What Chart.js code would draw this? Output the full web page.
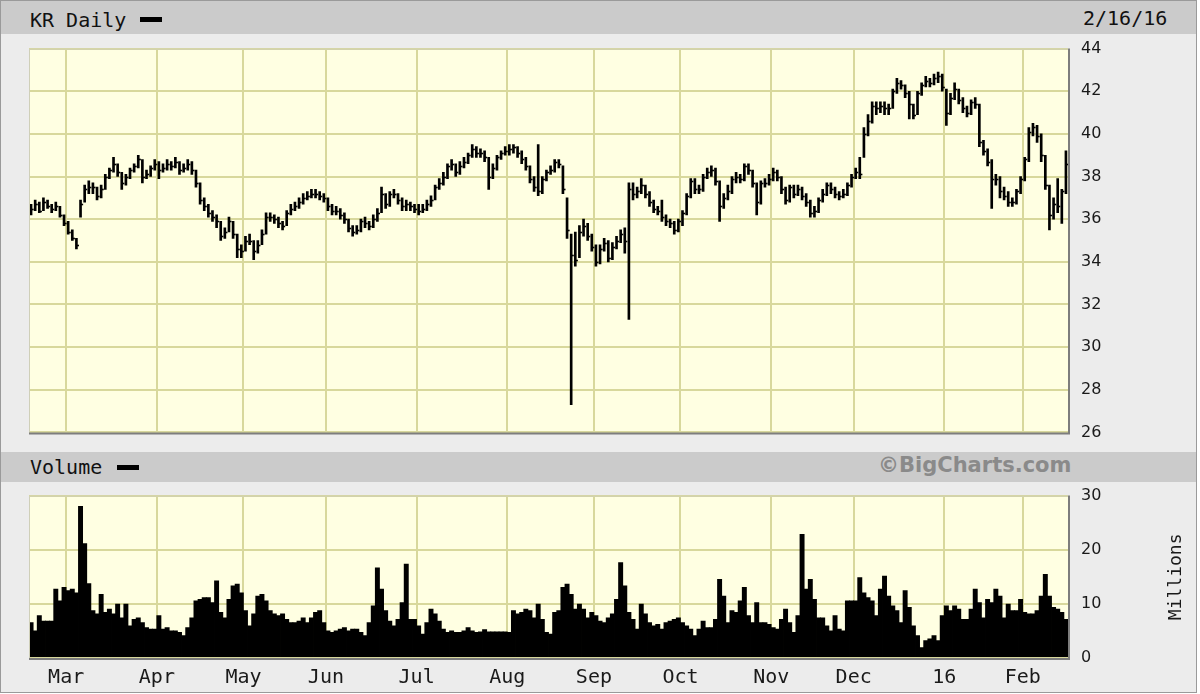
<!DOCTYPE html>
<html>
<head>
<meta charset="utf-8">
<script src="https://cdn.jsdelivr.net/npm/chart.js@4.4.0/dist/chart.umd.min.js"></script>
<style>
    html, body { margin: 0; padding: 0; background: #fff; }
    #frame { position: absolute; left: 0; top: 0; width: 1197px; height: 693px; box-sizing: border-box;
             background: #ececec; border: 1px solid #9a9a9a; }
    .band { position: absolute; left: 1px; width: 1195px; background: #cbcbcb; }
    .txt { position: absolute; font-family: "DejaVu Sans Mono", monospace; font-size: 20px; color: #111; line-height: 1; }
    .swatch { position: absolute; width: 22px; height: 5px; background: #000; }
    canvas { position: absolute; left: 0; }
</style>
</head>
<body>
<div id="frame"></div>
<div class="band" style="top:1px;height:33px;"></div>
<div class="txt" style="left:30px;top:10px;">KR Daily</div>
<div class="swatch" style="left:140px;top:17px;"></div>
<div class="txt" style="left:1083px;top:8px;">2/16/16</div>

<div class="band" style="top:452px;height:30px;"></div>
<div class="txt" style="left:30px;top:457px;">Volume</div>
<div class="swatch" style="left:117px;top:465px;"></div>
<div class="txt" style="left:878px;top:455px;font-family:'DejaVu Sans',sans-serif;font-weight:bold;font-size:21px;color:#8a8a8a;">©BigCharts.com</div>

<canvas id="price" width="1200" height="429" style="top:26px;"></canvas>
<canvas id="volume" width="1200" height="219" style="top:473px;"></canvas>

<script>
// --- DATA (KR daily, 2/17/15 - 2/16/16, one entry per trading day) ---
const closes = [
    36.5, 36.7, 36.4, 36.8, 36.6, 36.5, 36.6, 36.2, 35.8, 35.4,
    35.1, 34.8, 36.7, 37.4, 37.5, 37.5, 37.1, 37.4, 38.0, 38.3,
    38.6, 38.2, 37.7, 38.0, 38.3, 38.5, 38.8, 38.0, 38.1, 38.4,
    38.6, 38.3, 38.4, 38.6, 38.5, 38.7, 38.3, 38.4, 38.6, 38.3,
    37.7, 36.9, 36.6, 36.3, 36.1, 35.9, 35.2, 35.4, 35.9, 35.3,
    34.6, 34.5, 35.0, 35.0, 34.5, 34.8, 35.3, 36.1, 36.1, 36.0,
    35.8, 35.7, 36.3, 36.5, 36.6, 36.8, 37.0, 37.1, 37.2, 37.2,
    37.1, 37.0, 36.6, 36.4, 36.4, 36.2, 36.0, 35.6, 35.4, 35.5,
    35.9, 35.8, 35.7, 36.0, 36.3, 37.2, 36.7, 37.2, 37.2, 36.9,
    36.6, 36.7, 36.6, 36.5, 36.4, 36.5, 36.7, 36.9, 37.5, 37.7,
    38.0, 38.5, 38.6, 38.2, 38.5, 38.7, 39.0, 39.3, 39.1, 39.1,
    38.9, 38.0, 38.4, 38.9, 39.1, 39.2, 39.3, 39.4, 39.1, 38.8,
    38.5, 37.9, 37.5, 37.3, 37.9, 38.2, 38.3, 38.7, 38.6, 37.4,
    35.5, 34.3, 34.1, 35.4, 35.7, 35.2, 34.7, 34.0, 34.6, 34.9,
    34.2, 34.7, 35.0, 35.3, 35.0, 37.4, 37.2, 37.3, 37.6, 37.2,
    36.8, 36.5, 36.4, 36.1, 35.9, 35.8, 35.5, 35.9, 36.3, 37.1,
    37.8, 37.4, 37.4, 38.0, 38.2, 38.3, 37.8, 36.6, 37.0, 37.3,
    37.9, 38.0, 37.9, 38.5, 38.3, 37.7, 36.8, 37.7, 37.7, 37.9,
    38.2, 38.0, 37.4, 36.9, 37.5, 37.2, 37.4, 37.1, 36.8, 36.3,
    36.4, 36.9, 37.2, 37.6, 37.4, 37.2, 37.1, 37.2, 37.6, 38.0,
    38.2, 38.1, 40.0, 40.6, 41.3, 41.2, 41.3, 41.2, 41.2, 42.0,
    42.4, 42.3, 41.9, 41.4, 40.9, 41.9, 42.3, 42.5, 42.4, 42.6,
    42.7, 42.2, 41.0, 41.7, 42.1, 41.6, 41.2, 41.0, 41.5, 41.4,
    39.6, 39.2, 38.7, 37.9, 37.9, 37.3, 37.1, 36.8, 36.8, 37.3,
    37.9, 38.8, 40.1, 40.3, 39.9, 39.0, 37.6, 36.2, 36.7, 36.6,
    37.3, 38.6
];
const highs = [
    36.7, 36.9, 36.8, 37.0, 36.9, 36.7, 36.8, 36.6, 36.2, 35.9,
    35.5, 35.1, 36.9, 37.6, 37.8, 37.7, 37.5, 37.6, 38.1, 38.4,
    38.9, 38.6, 38.2, 38.1, 38.4, 38.6, 39.0, 38.8, 38.3, 38.5,
    38.8, 38.7, 38.6, 38.8, 38.7, 38.9, 38.7, 38.6, 38.8, 38.7,
    38.3, 37.7, 37.0, 36.7, 36.4, 36.2, 35.9, 35.6, 36.1, 35.9,
    35.3, 34.8, 35.2, 35.3, 35.0, 35.0, 35.5, 36.3, 36.3, 36.2,
    36.1, 35.9, 36.4, 36.7, 36.8, 37.0, 37.2, 37.3, 37.4, 37.4,
    37.3, 37.2, 37.0, 36.7, 36.6, 36.5, 36.3, 36.0, 35.7, 35.7,
    36.0, 36.1, 35.9, 36.2, 36.5, 37.5, 37.2, 37.3, 37.4, 37.2,
    37.0, 36.9, 36.8, 36.7, 36.7, 36.7, 36.9, 37.1, 37.6, 37.9,
    38.2, 38.6, 38.8, 38.6, 38.7, 38.9, 39.1, 39.5, 39.4, 39.3,
    39.2, 38.9, 38.6, 39.0, 39.2, 39.4, 39.5, 39.5, 39.4, 39.2,
    38.9, 38.5, 38.0, 39.5, 38.0, 38.3, 38.5, 38.8, 38.8, 38.5,
    37.0, 35.3, 35.4, 35.7, 36.0, 35.8, 35.3, 34.8, 34.8, 35.1,
    35.0, 34.9, 35.2, 35.5, 35.6, 37.7, 37.7, 37.5, 37.9, 37.6,
    37.3, 36.9, 36.6, 36.9, 36.2, 36.0, 35.9, 36.0, 36.4, 37.2,
    37.9, 37.9, 37.6, 38.1, 38.4, 38.5, 38.4, 37.8, 37.2, 37.6,
    38.0, 38.2, 38.1, 38.6, 38.6, 38.3, 37.7, 37.8, 37.9, 38.1,
    38.4, 38.3, 38.0, 37.5, 37.6, 37.6, 37.6, 37.5, 37.2, 36.9,
    36.6, 37.0, 37.4, 37.7, 37.7, 37.5, 37.3, 37.4, 37.7, 38.1,
    38.4, 38.9, 40.3, 40.9, 41.5, 41.5, 41.5, 41.5, 41.4, 42.1,
    42.6, 42.5, 42.3, 42.0, 41.4, 42.0, 42.4, 42.7, 42.6, 42.8,
    42.9, 42.8, 42.1, 41.9, 42.4, 42.1, 41.7, 41.3, 41.6, 41.7,
    41.4, 39.7, 39.3, 38.8, 38.1, 38.0, 37.5, 37.3, 37.0, 37.4,
    38.0, 38.9, 40.3, 40.5, 40.4, 40.0, 39.0, 37.6, 37.0, 37.9,
    37.4, 39.2
];
const lows = [
    36.2, 36.4, 36.3, 36.4, 36.5, 36.3, 36.4, 36.1, 35.7, 35.3,
    35.0, 34.6, 36.1, 36.8, 37.2, 37.2, 36.9, 37.0, 37.4, 37.9,
    38.2, 38.0, 37.4, 37.6, 37.9, 38.2, 38.4, 37.7, 37.9, 38.0,
    38.3, 37.9, 38.2, 38.3, 38.3, 38.4, 38.1, 38.2, 38.3, 38.1,
    37.5, 36.7, 36.4, 36.1, 35.9, 35.6, 35.0, 35.1, 35.4, 35.1,
    34.2, 34.2, 34.5, 34.8, 34.1, 34.4, 34.8, 35.3, 35.9, 35.8,
    35.6, 35.5, 35.7, 36.2, 36.4, 36.5, 36.7, 36.9, 37.0, 37.0,
    36.9, 36.8, 36.4, 36.2, 36.2, 36.0, 35.8, 35.4, 35.2, 35.3,
    35.4, 35.6, 35.5, 35.6, 35.9, 36.3, 36.5, 36.6, 37.0, 36.7,
    36.4, 36.4, 36.4, 36.3, 36.2, 36.3, 36.4, 36.6, 36.9, 37.4,
    37.6, 37.9, 38.3, 38.0, 38.1, 38.4, 38.6, 38.9, 38.9, 38.9,
    38.7, 37.4, 37.9, 38.3, 38.8, 39.0, 39.0, 39.1, 38.9, 38.6,
    38.3, 37.7, 37.3, 37.1, 37.2, 37.8, 38.1, 38.2, 38.4, 37.2,
    35.1, 27.3, 33.8, 34.2, 35.2, 35.0, 34.5, 33.8, 33.9, 34.5,
    34.0, 34.1, 34.6, 34.9, 34.4, 31.3, 36.9, 37.0, 37.2, 37.0,
    36.6, 36.3, 36.2, 35.9, 35.7, 35.6, 35.3, 35.4, 35.7, 36.2,
    37.0, 37.2, 37.2, 37.3, 37.9, 38.0, 37.6, 35.9, 36.5, 36.9,
    37.2, 37.7, 37.7, 37.8, 38.1, 37.5, 36.2, 36.7, 37.5, 37.6,
    37.8, 37.8, 37.2, 36.7, 36.8, 37.0, 37.1, 36.9, 36.6, 36.1,
    36.1, 36.3, 36.8, 37.1, 37.2, 37.0, 36.9, 37.0, 37.1, 37.5,
    37.9, 37.9, 38.9, 39.9, 40.5, 40.9, 41.0, 40.9, 40.9, 41.2,
    41.9, 42.1, 41.7, 40.7, 40.7, 40.9, 41.8, 42.2, 42.2, 42.3,
    42.4, 42.0, 40.4, 40.9, 41.6, 41.4, 41.0, 40.8, 40.9, 41.2,
    39.4, 39.0, 38.5, 36.5, 37.6, 37.0, 36.9, 36.6, 36.6, 36.7,
    37.2, 37.8, 38.7, 39.9, 39.6, 38.7, 37.4, 35.5, 36.0, 36.3,
    35.8, 37.2
];
// volume, millions of shares
const volumes = [
    6.6, 5.1, 7.9, 6.9, 6.9, 6.9, 12.8, 10.6, 13.1, 12.5, 12.8, 12.1,
    28.1, 21.2, 13.8, 8.8, 8.2, 11.8, 8.5, 9.1, 8.2, 10.0, 7.5, 10.0,
    6.0, 7.2, 7.5, 6.6, 5.7, 5.4, 5.4, 7.9, 5.4, 5.7, 5.1, 5.1,
    4.8, 4.2, 5.7, 7.5, 10.6, 10.9, 11.2, 11.2, 10.3, 14.3, 8.5, 7.5,
    10.9, 13.4, 13.7, 12.1, 8.8, 6.0, 8.2, 11.5, 11.8, 10.6, 8.8, 8.2,
    7.9, 8.2, 7.2, 6.6, 6.6, 6.9, 7.5, 6.6, 7.5, 8.5, 8.8, 6.6,
    5.1, 4.8, 5.1, 5.4, 5.7, 5.1, 5.4, 5.4, 4.8, 4.2, 6.6, 9.7, 16.7, 12.8,
    8.8, 6.9, 6.0, 7.2, 10.3, 17.4, 7.2, 7.2, 6.0, 4.5, 6.6, 9.1, 8.2, 6.9,
    5.4, 4.8, 5.1, 4.8, 4.8, 5.1, 5.7, 5.1, 4.8, 4.9, 5.3, 4.9, 4.9, 4.9, 4.9, 4.9,
    4.8, 8.8, 8.2, 8.5, 9.1, 8.8, 7.5, 10.0, 7.2, 4.8, 4.5, 8.5, 8.8, 13.1, 13.7, 11.8,
    9.1, 10.0, 9.1, 7.5, 8.5, 7.9, 6.9, 6.6, 7.5, 8.2, 10.9, 17.7, 13.4, 8.5, 7.2, 5.4,
    10.0, 8.2, 6.6, 6.0, 6.3, 5.4, 6.6, 6.9, 7.2, 7.5, 6.6, 6.0, 5.4, 4.2, 5.4, 6.9,
    5.7, 5.7, 7.2, 14.6, 11.5, 6.6, 8.8, 8.5, 10.6, 13.1, 7.9, 6.6, 10.3, 6.6, 6.6, 6.3,
    5.7, 5.4, 7.2, 9.1, 6.6, 4.8, 7.9, 22.9, 12.8, 14.6, 10.9, 7.5, 7.5, 6.0, 5.1, 7.9,
    5.4, 5.1, 10.6, 10.6, 10.6, 14.9, 12.1, 11.2, 10.6, 7.9, 12.8, 15.2, 11.5, 9.7, 8.8, 6.6,
    12.5, 9.4, 6.0, 4.2, 2.0, 3.3, 3.6, 4.2, 3.3, 7.9, 9.7, 8.8, 9.7, 9.1, 7.2, 7.2,
    9.1, 12.8, 10.3, 7.5, 10.9, 10.3, 12.8, 11.5, 7.5, 10.0, 8.8, 8.8, 10.9, 8.5, 8.2, 8.2,
    8.8, 11.5, 15.5, 11.5, 9.4, 9.1, 8.5, 7.2
];
// first trading day of each month (index into the arrays above) and its label
const monthStarts = [9, 31, 52, 72, 94, 116, 137, 158, 180, 200, 222, 241];
const monthNames = ['Mar', 'Apr', 'May', 'Jun', 'Jul', 'Aug', 'Sep', 'Oct', 'Nov', 'Dec', '16', 'Feb'];
const priceTicks = [26, 28, 30, 32, 34, 36, 38, 40, 42, 44];
const volumeTicks = [0, 10, 20, 30];

// --- STYLE ---
const PLOT_BG = '#ffffe2';
const GRID = '#d8d89c';
const TEXT = '#1a1a1a';
const days = closes.map((_, i) => i);

const monthGrid = ctx => monthStarts.includes(ctx.index) ? GRID : 'rgba(0,0,0,0)';

const plotFrame = {
    id: 'plotFrame',
    beforeDraw(chart) {
        const { ctx, chartArea: a } = chart;
        ctx.save();
        ctx.fillStyle = PLOT_BG;
        ctx.fillRect(a.left, a.top, a.width, a.height);
        ctx.restore();
    },
    afterDraw(chart) {
        const { ctx, chartArea: a } = chart;
        ctx.save();
        ctx.lineWidth = 1;
        ctx.strokeStyle = '#cfcfb8';
        ctx.beginPath();
        ctx.moveTo(a.left + 0.5, a.bottom); ctx.lineTo(a.left + 0.5, a.top + 0.5); ctx.lineTo(a.right, a.top + 0.5);
        ctx.stroke();
        ctx.strokeStyle = '#7d7d7d';
        ctx.lineWidth = 2;
        ctx.beginPath();
        ctx.moveTo(a.left, a.bottom + 1); ctx.lineTo(a.right + 1, a.bottom + 1); ctx.lineTo(a.right + 1, a.top);
        ctx.stroke();
        ctx.restore();
    }
};

// short close tick to the right of every price bar
const closeTicks = {
    id: 'closeTicks',
    afterDatasetsDraw(chart) {
        const { ctx, scales: { x, y } } = chart;
        ctx.save();
        ctx.strokeStyle = '#000';
        ctx.lineWidth = 1.6;
        closes.forEach((c, i) => {
            const px = x.getPixelForValue(i);
            const py = Math.round(y.getPixelForValue(c)) + 0.5;
            ctx.beginPath();
            ctx.moveTo(px, py);
            ctx.lineTo(px + 2.6, py);
            ctx.stroke();
        });
        ctx.restore();
    }
};

const millionsTitle = {
    id: 'millionsTitle',
    afterDraw(chart) {
        const { ctx, chartArea: a } = chart;
        ctx.save();
        ctx.translate(1176, (a.top + a.bottom) / 2);
        ctx.rotate(-Math.PI / 2);
        ctx.font = '18px "DejaVu Sans Mono", monospace';
        ctx.fillStyle = TEXT;
        ctx.textAlign = 'center';
        ctx.textBaseline = 'middle';
        ctx.fillText('Millions', 0, 0);
        ctx.restore();
    }
};

function xScale(showLabels) {
    return {
        type: 'category',
        offset: true,
        grid: { color: monthGrid, lineWidth: 2, drawTicks: false, offset: true },
        border: { display: false },
        ticks: {
            display: showLabels,
            autoSkip: false,
            maxRotation: 0,
            padding: 8,
            labelOffset: -2,
            font: { family: '"DejaVu Sans Mono", monospace', size: 20 },
            color: TEXT,
            callback: (val, i) => {
                const k = monthStarts.indexOf(i);
                return k >= 0 ? monthNames[k] : '';
            }
        },
        afterFit: s => { s.height = showLabels ? 34 : 0; }
    };
}

function yScale(min, max, tickValues) {
    return {
        position: 'right',
        min, max,
        grid: { color: GRID, lineWidth: 2, drawTicks: false },
        border: { display: false },
        afterBuildTicks: s => { s.ticks = tickValues.map(v => ({ value: v })); },
        ticks: {
            padding: 13,
            font: { family: '"DejaVu Sans", sans-serif', size: 16 },
            color: TEXT
        },
        afterFit: s => { s.width = 132; }
    };
}

new Chart(document.getElementById('price'), {
    type: 'bar',
    data: {
        labels: days,
        datasets: [{
            data: lows.map((l, i) => [l, highs[i]]),
            backgroundColor: '#000',
            barThickness: 2,
            borderWidth: 0
        }]
    },
    options: {
        responsive: false,
        animation: false,
        layout: { padding: { left: 29, top: 17, right: 0, bottom: 12 } },
        plugins: { legend: { display: false }, tooltip: { enabled: false } },
        scales: { x: xScale(false), y: yScale(26, 44, priceTicks) }
    },
    plugins: [plotFrame, closeTicks]
});

new Chart(document.getElementById('volume'), {
    type: 'bar',
    data: {
        labels: days,
        datasets: [{
            data: volumes,
            backgroundColor: '#000',
            borderWidth: 0,
            categoryPercentage: 1,
            barPercentage: 1.2
        }]
    },
    options: {
        responsive: false,
        animation: false,
        layout: { padding: { left: 29, top: 15, right: 0, bottom: 0 } },
        plugins: { legend: { display: false }, tooltip: { enabled: false } },
        scales: { x: xScale(true), y: yScale(0, 30, volumeTicks) }
    },
    plugins: [plotFrame, millionsTitle]
});
</script>
</body>
</html>
